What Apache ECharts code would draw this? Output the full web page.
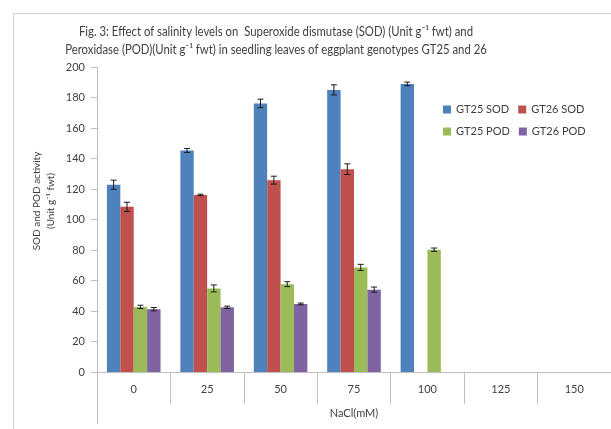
<!DOCTYPE html>
<html><head><meta charset="utf-8">
<script src="https://cdn.jsdelivr.net/npm/echarts@6/dist/echarts.min.js"></script>
<style>html,body{margin:0;padding:0;background:#fff}#c{width:611px;height:429px}</style>
</head><body><div id="c"></div>
<script>
const categories = ['0', '25', '50', '75', '100', '125', '150'];
const seriesNames = ['GT25 SOD', 'GT26 SOD', 'GT25 POD', 'GT26 POD'];
const gt25Sod = [122.8, 145.3, 176.1, 185.0, 188.9, null, null];
const gt26Sod = [108.3, 116.1, 125.8, 133.0, null, null, null];
const gt25Pod = [42.7, 54.8, 57.6, 68.6, 80.2, null, null];
const gt26Pod = [41.2, 42.4, 44.6, 54.0, null, null, null];
const gt25SodErr = [3.0, 1.3, 2.8, 3.3, 1.2, null, null];
const gt26SodErr = [3.0, 0.5, 2.6, 3.5, null, null, null];
const gt25PodErr = [1.1, 2.3, 1.6, 2.0, 1.1, null, null];
const gt26PodErr = [1.1, 0.8, 0.6, 1.7, null, null, null];
const yTicks = [0, 20, 40, 60, 80, 100, 120, 140, 160, 180, 200];
const titleText = 'Fig. 3: Effect of salinity levels on  Superoxide dismutase (SOD) (Unit g\u207B\u00B9 fwt) and\nPeroxidase (POD)(Unit g\u207B\u00B9 fwt) in seedling leaves of eggplant genotypes GT25 and 26';
const yAxisTitle = 'SOD and POD activity\n(Unit g\u207B\u00B9 fwt)';
const xAxisTitle = 'NaCl(mM)';

const values = [gt25Sod, gt26Sod, gt25Pod, gt26Pod];
const errors = [gt25SodErr, gt26SodErr, gt25PodErr, gt26PodErr];
const colors = ['#4F81BD', '#C0504D', '#9BBB59', '#8064A2'];
const CAT_GAP = 0.27;
const FONT = 'Lato, "Liberation Sans", sans-serif';
const TXT = '#404040';

function errRender(si) {
  return function (params, api) {
    const x = api.value(0), v = api.value(1), e = api.value(2);
    const band = api.size([1, 0])[0];
    const bw = band * (1 - CAT_GAP) / 4;
    const off = (si - 1.5) * bw;
    const hi = api.coord([x, v + e]);
    const lo = api.coord([x, v - e]);
    const cx = hi[0] + off;
    const cap = 3;
    const st = { stroke: '#1a1a1a', lineWidth: 1 };
    return { type: 'group', children: [
      { type: 'line', shape: { x1: cx, y1: hi[1], x2: cx, y2: lo[1] }, style: st },
      { type: 'line', shape: { x1: cx - cap, y1: hi[1], x2: cx + cap, y2: hi[1] }, style: st },
      { type: 'line', shape: { x1: cx - cap, y1: lo[1], x2: cx + cap, y2: lo[1] }, style: st }
    ]};
  };
}

const series = [];
values.forEach((vals, i) => {
  series.push({
    name: seriesNames[i], type: 'bar', data: vals,
    barGap: '0%', barCategoryGap: (CAT_GAP * 100) + '%',
    itemStyle: { color: colors[i] }
  });
});
values.forEach((vals, i) => {
  const d = [];
  vals.forEach((v, k) => { if (v != null && errors[i][k] != null) d.push([k, v, errors[i][k]]); });
  series.push({ type: 'custom', renderItem: errRender(i), data: d, z: 5, silent: true,
    encode: { x: 0, y: 1 } });
});

const legendBase = { left: 443, padding: 0, itemWidth: 8, itemHeight: 8, itemGap: 9,
  icon: 'rect', textStyle: { fontFamily: FONT, fontSize: 11, color: TXT } };

const chart = echarts.init(document.getElementById('c'), null, { renderer: 'canvas' });
chart.setOption({
  animation: false,
  backgroundColor: '#fff',
  legend: [
    Object.assign({ data: [seriesNames[0], seriesNames[1]], top: 104 }, legendBase),
    Object.assign({ data: [seriesNames[2], seriesNames[3]], top: 126 }, legendBase)
  ],
  grid: { left: 97, top: 67, right: 0, bottom: 57, containLabel: false },
  xAxis: {
    type: 'category', data: categories, boundaryGap: true,
    axisLine: { lineStyle: { color: '#bfbfbf' } },
    axisTick: { show: true, length: 32, interval: 0, lineStyle: { color: '#bfbfbf' } },
    axisLabel: { interval: 0, margin: 12, color: TXT, fontFamily: FONT, fontSize: 11 },
    name: xAxisTitle, nameLocation: 'middle', nameGap: 36,
    nameTextStyle: { color: TXT, fontFamily: FONT, fontSize: 11 }
  },
  yAxis: {
    type: 'value', min: yTicks[0], max: yTicks[yTicks.length - 1], interval: 20,
    axisLine: { show: true, lineStyle: { color: '#bfbfbf' } },
    axisTick: { show: true, length: 6, lineStyle: { color: '#bfbfbf' } },
    splitLine: { show: false },
    axisLabel: { color: TXT, fontFamily: FONT, fontSize: 11, margin: 12 }
  },
  graphic: [
    { type: 'rect', left: 11, top: 11, shape: { width: 700, height: 500 }, silent: true,
      style: { fill: 'none', stroke: '#d0d0d0', lineWidth: 1 } },
    { type: 'line', shape: { x1: 97.5, y1: 372, x2: 97.5, y2: 424 }, silent: true,
      style: { stroke: '#bfbfbf', lineWidth: 1 } },
    { type: 'text', x: 276, y: 41, scaleX: 0.84, silent: true,
      style: { text: titleText, fontFamily: FONT, fontSize: 13.5, fill: TXT,
        align: 'center', verticalAlign: 'middle', lineHeight: 18 } },
    { type: 'text', x: 44, y: 201, rotation: Math.PI / 2, silent: true,
      style: { text: yAxisTitle, fontFamily: FONT, fontSize: 10,
        fill: TXT, align: 'center', verticalAlign: 'middle', lineHeight: 14 } }
  ],
  series: series
});
</script></body></html>
